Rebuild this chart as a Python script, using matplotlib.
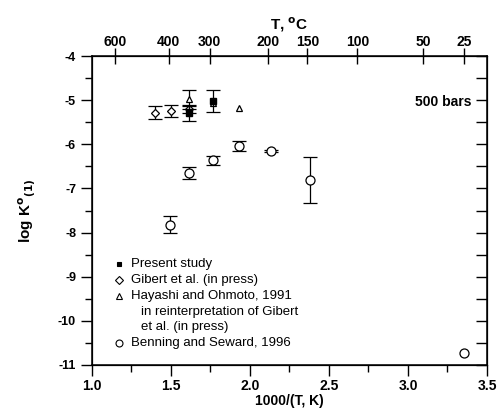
import matplotlib
matplotlib.use("Agg")
import matplotlib.pyplot as plt
import numpy as np

plt.rcParams['font.family'] = ['Liberation Sans', 'DejaVu Sans']

# Present study (filled)
ps_x = [1.616, 1.764]
ps_y = [-5.30, -5.02]
ps_err = [0.17, 0.25]

# Gibert et al. (diamonds)
gb_x = [1.40, 1.50, 1.616]
gb_y = [-5.28, -5.24, -5.20]
gb_err = [0.15, 0.14, 0.10]

# Hayashi and Ohmoto 1991 (triangles)
ho_x = [1.616, 1.764, 1.932]
ho_y = [-4.98, -5.07, -5.17]
ho_err = [0.22, 0.0, 0.0]

# Benning and Seward 1996 (circles)
bs_x = [1.494, 1.616, 1.764, 1.932, 2.133, 2.38, 3.354]
bs_y = [-7.82, -6.65, -6.36, -6.04, -6.15, -6.80, -10.73]
bs_err = [0.20, 0.14, 0.10, 0.12, 0.03, 0.52, 0.0]

top_T = [600, 400, 300, 200, 150, 100, 50, 25]

fig = plt.figure(figsize=(5.01, 4.18), dpi=100)
ax = fig.add_axes([0.1836, 0.1268, 0.972 - 0.1836, 0.866 - 0.1268])

ekw = dict(ecolor='black', elinewidth=0.9, capsize=5, capthick=0.9, linestyle='none')


def series(x, y, err, **mk):
    x = np.asarray(x); y = np.asarray(y); err = np.asarray(err)
    has = err > 0
    if has.any():
        ax.errorbar(x[has], y[has], yerr=err[has], fmt='none', **ekw)
    ax.plot(x, y, linestyle='none', **mk)


series(bs_x, bs_y, bs_err, marker='o', ms=6.5, mfc='white', mec='black', mew=0.9)
series(gb_x, gb_y, gb_err, marker='D', ms=4, mfc='white', mec='black', mew=0.9)
series(ho_x, ho_y, ho_err, marker='^', ms=5, mfc='white', mec='black', mew=0.9)
series(ps_x, ps_y, ps_err, marker='s', ms=4, mfc='black', mec='black')

ax.set_xlim(1.0, 3.5)
ax.set_ylim(-11, -4)
ax.set_xticks(np.arange(1.0, 3.51, 0.5))
ax.set_xticks(np.arange(1.25, 3.5, 0.5), minor=True)
ax.set_yticks(np.arange(-11, -3.9, 1))
ax.set_yticks(np.arange(-10.5, -4, 1), minor=True)
ax.set_xticklabels(['%.1f' % v for v in np.arange(1.0, 3.51, 0.5)], fontweight='bold', fontsize=10)
ax.set_yticklabels(['%d' % v for v in np.arange(-11, -3.9, 1)], fontweight='bold', fontsize=9)
ax.tick_params(axis='x', which='major', direction='out', length=8, width=1, pad=2)
ax.tick_params(axis='x', which='minor', direction='out', length=5, width=1)
ax.tick_params(axis='y', which='major', direction='out', length=8, width=1)
ax.tick_params(axis='y', which='minor', direction='out', length=5, width=1)
for s in ax.spines.values():
    s.set_linewidth(1.1)

ax.set_xlabel('1000/(T, K)', fontweight='bold', fontsize=10, labelpad=1)
ax.set_ylabel(r'log K$^{\mathbf{o}}$$_{\mathbf{(1)}}$', fontweight='bold', fontsize=11, labelpad=14)

right = ax.twinx()
right.set_ylim(ax.get_ylim())
right.set_yticks(np.arange(-11, -3.9, 0.5))
right.set_yticklabels([])
right.tick_params(axis='y', direction='in', length=8, width=1)

top = ax.twiny()
top.set_xlim(ax.get_xlim())
top.set_xticks([1000.0 / (t + 273.15) for t in top_T])
top.set_xticklabels([str(t) for t in top_T], fontweight='bold', fontsize=10)
top.tick_params(axis='x', direction='inout', length=12, width=1, pad=-1)
top.set_xlabel(r'T, $^{\mathbf{o}}$C', fontweight='bold', fontsize=11, labelpad=4)

ax.text(0.96, 0.85, '500 bars', transform=ax.transAxes, ha='right', va='center',
        fontweight='bold', fontsize=10)

# Legend (manual, to keep layout)
lx_m = 1.17
lx_t = 1.25
leg = [
    ('s', 'black', 3.5, 'Present study', -8.72),
    ('D', 'white', 4, 'Gibert et al. (in press)', -9.08),
    ('^', 'white', 4.5, 'Hayashi and Ohmoto, 1991', -9.44),
    ('o', 'white', 5, 'Benning and Seward, 1996', -10.5),
]
for m, fc, ms, lab, yy in leg:
    ax.plot([lx_m], [yy], marker=m, ms=ms, mfc=fc, mec='black', mew=0.8, linestyle='none')
    ax.text(lx_t, yy, lab, fontsize=9.5, va='center', ha='left')
ax.text(lx_t + 0.06, -9.8, 'in reinterpretation of Gibert', fontsize=9.5, va='center', ha='left')
ax.text(lx_t + 0.06, -10.15, 'et al. (in press)', fontsize=9.5, va='center', ha='left')

fig.savefig('out.png', dpi=100)
